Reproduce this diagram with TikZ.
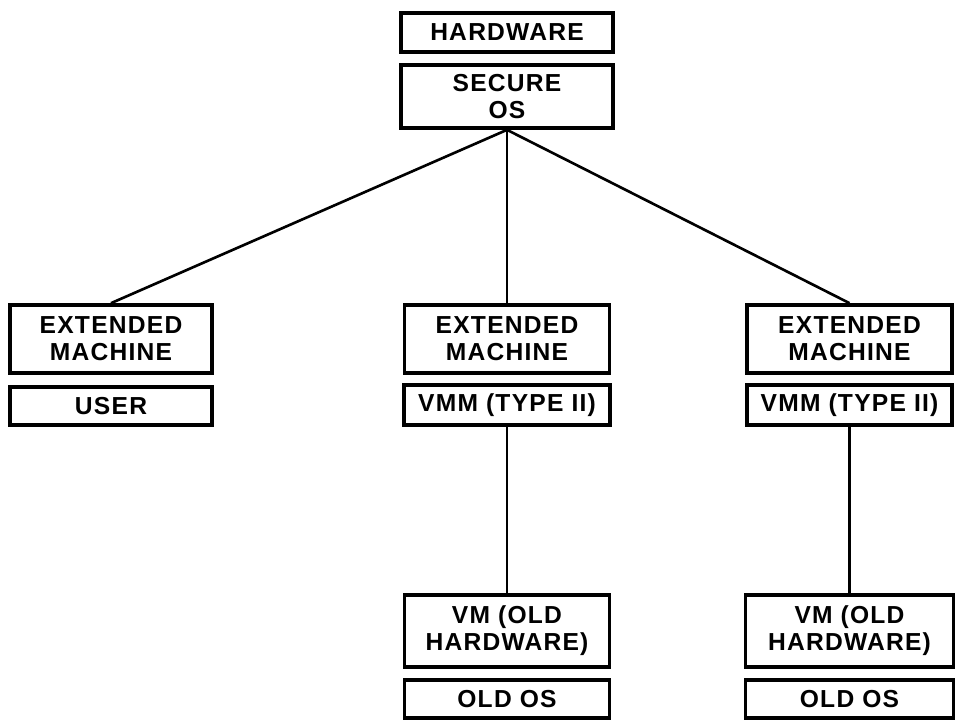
\documentclass[tikz,border=0pt]{standalone}
\usepackage{fontspec}
\setmainfont{Liberation Sans}[LetterSpace=5]
\usetikzlibrary{positioning}

\begin{document}
\begin{tikzpicture}[
        box/.style  = {draw, line width=2.1pt, align=center, inner sep=1pt,
                       font=\bfseries\fontsize{14}{15.5}\selectfont},
        tall/.style = {box, minimum height=13.6mm},
        flat/.style = {box, minimum height=7.8mm},
        link/.style = {line width=1.5pt},
    ]
        \useasboundingbox (0,0) rectangle (19.14,-14.42);

        % ---- top: hardware and secure OS ----
        \node (hw)  [flat, minimum width=42.4mm, minimum height=7.8mm]  at (10.14, -0.65) {HARDWARE};
        \node (sos) [box, minimum width=42.4mm, minimum height=12.6mm] at (10.14, -1.93) {SECURE\\OS};

        % ---- row of extended machines ----
        \node (em1)  [tall, minimum width=40.4mm] at (2.22, -6.78)  {EXTENDED\\MACHINE};
        \node (user) [flat, minimum width=40.4mm, minimum height=7.6mm] at (2.22, -8.12) {USER};
        \node (em2)  [tall, minimum width=41mm]   at (10.14, -6.78) {EXTENDED\\MACHINE};
        \node (vmm2) [flat, minimum width=41.2mm, minimum height=8mm] at (10.14, -8.1) {VMM (TYPE II)};
        \node (em3)  [tall, minimum width=41mm]   at (16.99, -6.78) {EXTENDED\\MACHINE};
        \node (vmm3) [flat, minimum width=41mm, minimum height=8mm] at (16.99, -8.1) {VMM (TYPE II)};

        % ---- virtual machines ----
        \node (vm2) [box, minimum width=41mm, minimum height=14.4mm] at (10.14, -12.62) {VM (OLD\\HARDWARE)};
        \node (os2) [flat, minimum width=41mm, minimum height=7.6mm] at (10.14, -13.98) {OLD OS};
        \node (vm3) [box, minimum width=41.6mm, minimum height=14.4mm] at (16.99, -12.62) {VM (OLD\\HARDWARE)};
        \node (os3) [flat, minimum width=41.6mm, minimum height=7.6mm] at (16.99, -13.98) {OLD OS};

        % ---- connectors ----
        \draw[link] (sos.south) -- (em1.north);
        \draw[link] (sos.south) -- (em2.north);
        \draw[link] (sos.south) -- (em3.north);
        \draw[link] (vmm2.south) -- (vm2.north);
        \draw[link] (vmm3.south) -- (vm3.north);
    \end{tikzpicture}
\end{document}
